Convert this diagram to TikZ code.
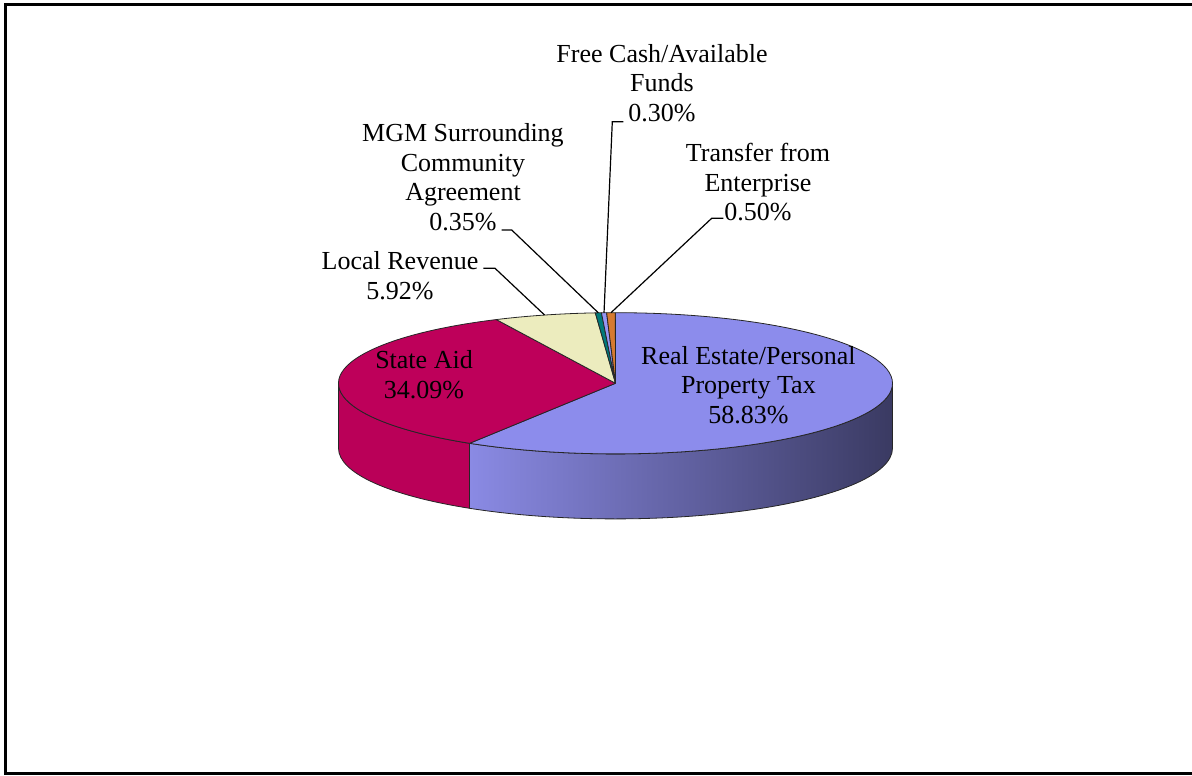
\documentclass[tikz,border=0pt]{standalone}
\usepackage{fontspec}
\setmainfont{Liberation Serif}
\definecolor{reTop}{RGB}{140,140,236}
\definecolor{reSideA}{RGB}{138,138,228}
\definecolor{reSideB}{RGB}{96,96,170}
\definecolor{reSideC}{RGB}{58,58,98}
\definecolor{saTop}{RGB}{190,0,90}
\definecolor{saSide}{RGB}{186,0,88}
\definecolor{lrTop}{RGB}{236,236,190}
\definecolor{mgmTop}{RGB}{0,122,122}
\definecolor{fcTop}{RGB}{150,150,245}
\definecolor{trTop}{RGB}{214,122,48}
\begin{document}
\begin{tikzpicture}[x=1pt,y=1pt,
  slice/.style={draw=black!85,line width=0.8pt,line join=round},
  lbl/.style={font=\fontsize{26}{29.5}\selectfont,align=center,inner sep=0pt},
  leader/.style={draw=black,line width=1.2pt},
  er/.style={x radius=277,y radius=70.6}]
\useasboundingbox (0,0) rectangle (1192,776);
\draw[line width=3pt] (1200,771) -- (5,771) -- (5,2.5) -- (1200,2.5);
\coordinate (C) at (615.5,392.7);
\coordinate (Cb) at (615.5,327.7);
% sides
\draw[slice,left color=reSideA,middle color=reSideB,right color=reSideC]
  ([shift={(0:277 and 70.6)}]C) arc[er,start angle=0,end angle=-121.788]
  -- ([shift={(-121.788:277 and 70.6)}]Cb) arc[er,start angle=-121.788,end angle=0] -- cycle;
\draw[slice,fill=saSide]
  ([shift={(-121.788:277 and 70.6)}]C) arc[er,start angle=-121.788,end angle=-180]
  -- ([shift={(-180:277 and 70.6)}]Cb) arc[er,start angle=-180,end angle=-121.788] -- cycle;
% top
\draw[slice,fill=reTop] (C) -- ([shift={(90:277 and 70.6)}]C) arc[er,start angle=90,end angle=-121.788] -- cycle;
\draw[slice,fill=saTop] (C) -- ([shift={(-121.788:277 and 70.6)}]C) arc[er,start angle=-121.788,end angle=-244.512] -- cycle;
\draw[slice,fill=lrTop] (C) -- ([shift={(115.488:277 and 70.6)}]C) arc[er,start angle=115.488,end angle=94.176] -- cycle;
\draw[slice,fill=mgmTop] (C) -- ([shift={(94.176:277 and 70.6)}]C) arc[er,start angle=94.176,end angle=92.916] -- cycle;
\draw[slice,fill=fcTop] (C) -- ([shift={(92.916:277 and 70.6)}]C) arc[er,start angle=92.916,end angle=91.836] -- cycle;
\draw[slice,fill=trTop] (C) -- ([shift={(91.836:277 and 70.6)}]C) arc[er,start angle=91.836,end angle=90.036] -- cycle;
% labels
\node[lbl] (re) at (748.4,391.1) {Real Estate/Personal\\Property Tax\\58.83\%};
\node[lbl] (sa) at (424,401.5) {State Aid\\34.09\%};
\node[lbl] (lr) at (400,500.5) {Local Revenue\\5.92\%};
\node[lbl] (mgm) at (463,599) {MGM Surrounding\\Community\\Agreement\\0.35\%};
\node[lbl] (fc) at (662,693) {Free Cash/Available\\Funds\\0.30\%};
\node[lbl] (tr) at (758,593.7) {Transfer from\\Enterprise\\0.50\%};
% leader points
\coordinate (lrE) at ([shift={(104.832:277 and 70.6)}]C);
\coordinate (mgmE) at ([shift={(93.546:277 and 70.6)}]C);
\coordinate (fcE) at ([shift={(92.376:277 and 70.6)}]C);
\coordinate (trE) at ([shift={(90.936:277 and 70.6)}]C);
\coordinate (lrT) at (483.3,507.7);
\coordinate (lrK) at (495,507.7);
\coordinate (mgmT) at (501.7,546);
\coordinate (mgmK) at (511.7,546);
\coordinate (fcT) at (623.3,654.3);
\coordinate (fcK) at (612.3,654.3);
\coordinate (trT) at (723.3,557.7);
\coordinate (trK) at (711.7,557.7);
\draw[leader] (lrT) -- (lrK) -- (lrE);
\draw[leader] (mgmT) -- (mgmK) -- (mgmE);
\draw[leader] (fcT) -- (fcK) -- (fcE);
\draw[leader] (trT) -- (trK) -- (trE);
\end{tikzpicture}
\end{document}
